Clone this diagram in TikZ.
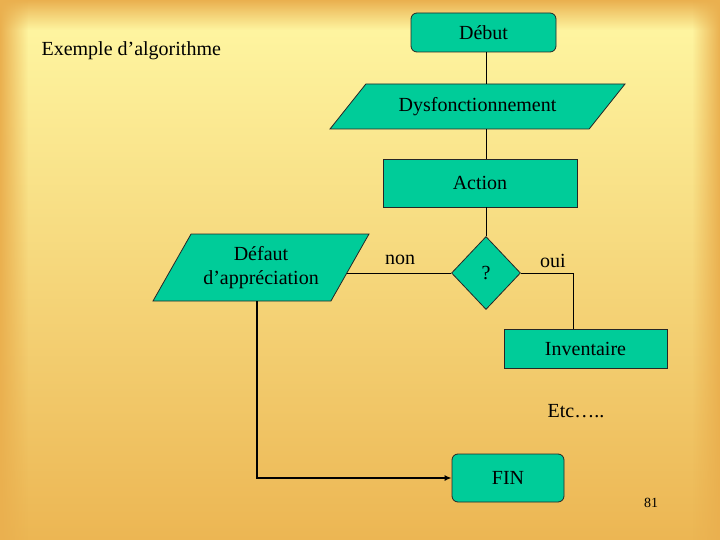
\documentclass[tikz,border=0pt]{standalone}
\usepackage{fontspec}
\setmainfont{Liberation Serif}
\usepackage{tikz}
\usetikzlibrary{shapes.geometric,arrows.meta,fadings}
\definecolor{flowfill}{HTML}{00CC99}
\definecolor{bgtop}{HTML}{FFF8A4}
\definecolor{bgmid}{HTML}{FAE489}
\definecolor{bgbot}{HTML}{ECB653}
\definecolor{bgedge}{HTML}{EAB04F}
\tikzfading[name=fadedown, top color=transparent!0, bottom color=transparent!100]
\tikzfading[name=faderight, left color=transparent!0, right color=transparent!100]
\tikzfading[name=fadeleft, left color=transparent!100, right color=transparent!0]

\begin{document}
\begin{tikzpicture}[
  x=1pt,y=-1pt,
  txt/.style={font=\fontsize{20}{24}\selectfont,text=black},
  box/.style={txt,draw=black!85,line width=0.8pt,fill=flowfill,inner sep=2pt,align=center},
  termbox/.style={box,rounded corners=6pt},
  iobox/.style={box,trapezium,trapezium stretches body},
  testbox/.style={box,diamond,inner sep=0pt},
  line/.style={draw=black,line width=0.8pt},
  arrow/.style={draw=black,line width=1.8pt,-{Latex[length=7pt,width=6pt]}}
]
  % background
  \useasboundingbox (0,0) rectangle (720,540);
  \fill[top color=bgtop,middle color=bgmid,bottom color=bgbot] (0,0) rectangle (720,540);
  \fill[bgedge,path fading=fadedown] (0,0) rectangle (720,30);
  \fill[bgedge,path fading=faderight] (0,0) rectangle (28,540);
  \fill[bgedge,path fading=fadeleft] (692,0) rectangle (720,540);

  \node[txt,anchor=west] (titre) at (38,51) {Exemple d’algorithme};

  \node[termbox,minimum width=145pt,minimum height=39pt] (debut) at (483.5,32.5) {Début};
  \node[iobox,minimum width=295pt,minimum height=45pt,
        trapezium left angle=32,trapezium right angle=148] (dysf) at (477.5,106.5) {Dysfonctionnement};
  \node[box,minimum width=194pt,minimum height=48pt] (action) at (480,183) {Action};
  \node[testbox,minimum width=69pt,minimum height=73pt] (q) at (486,273) {?};
  \node[iobox,minimum width=216pt,minimum height=67pt,
        trapezium left angle=50.6,trapezium right angle=129.4] (defaut) at (261,267.5) {Défaut\\d’appréciation};
  \node[box,minimum width=163pt,minimum height=39pt] (inv) at (585.5,348.5) {Inventaire};
  \node[termbox,minimum width=112pt,minimum height=48pt] (fin) at (508,478) {FIN};

  \node[txt] (non) at (400,260) {non};
  \node[txt] (oui) at (553,261) {oui};
  \node[txt] (etc) at (576,411) {Etc…..};
  \node[font=\fontsize{14}{16}\selectfont] (num) at (651,503) {81};

  \draw[line] (q |- debut.south) -- (q |- dysf.north);
  \draw[line] (q |- dysf.south) -- (q |- action.north);
  \draw[line] (q |- action.south) -- (q.north);
  \draw[line] (q.west) -- (q.west -| defaut.-4);
  \draw[line] (q.east) -| ([xshift=-12pt]inv.north);
  \draw[arrow] ([xshift=-4pt]defaut.south) |- (fin.west);
\end{tikzpicture}
\end{document}
